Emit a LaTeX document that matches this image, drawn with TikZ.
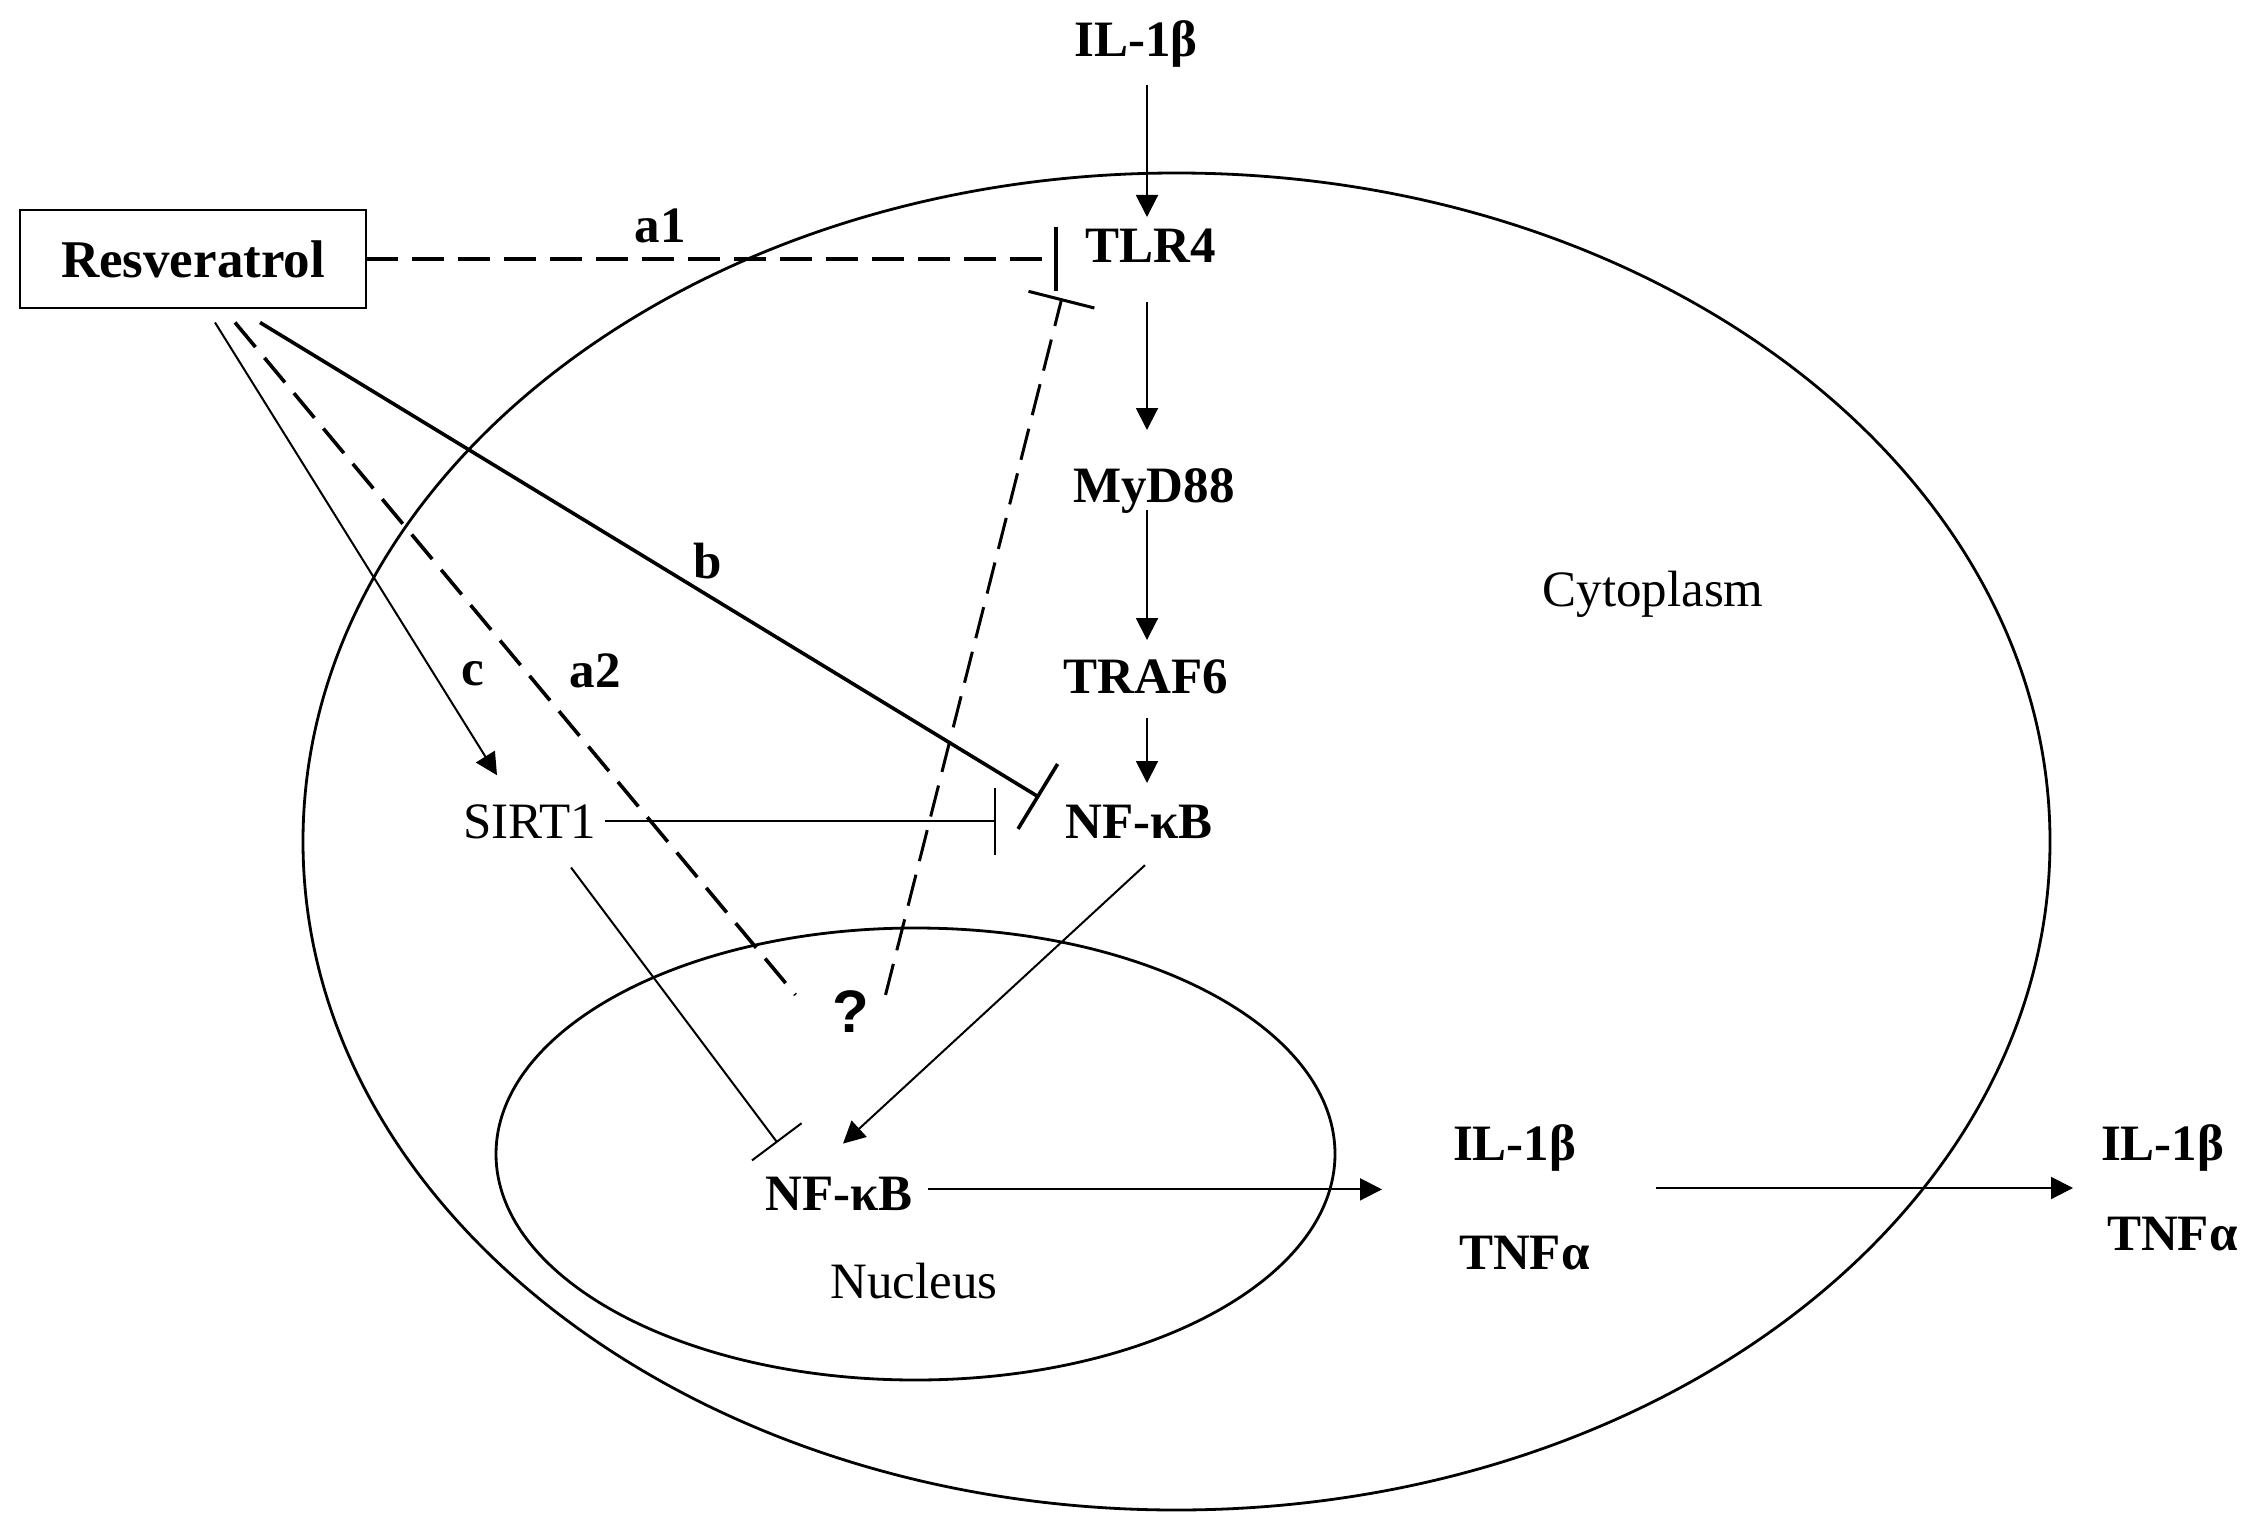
\documentclass[tikz,border=0pt]{standalone}
\usepackage{fontspec}
\setmainfont{Liberation Serif}
\newfontfamily\qfont{Liberation Sans}
\usetikzlibrary{arrows.meta}
\begin{document}
\begin{tikzpicture}[x=1pt,y=-1pt,
  lbl/.style={font=\fontsize{51}{60}\selectfont\bfseries, inner sep=0pt, outer sep=0pt, anchor=base},
  rlbl/.style={font=\fontsize{51}{60}\selectfont, inner sep=0pt, outer sep=0pt, anchor=base},
  arr/.style={line width=2pt, -{Triangle[length=22pt,width=22pt]}},
  tbar/.style={-{Bar[width=#1]}},
  tbar/.default=64pt,
  dsh/.style={dash pattern=on 32pt off 14pt, line width=3.6pt},
  thin/.style={line width=2pt},
  cell/.style={line width=2.8pt}
]
\useasboundingbox (0,0) rectangle (2267,1533);
\fill[white] (0,0) rectangle (2267,1533);

% cell and nucleus
\draw[cell] (1176.5,841.5) ellipse [x radius=873.5pt, y radius=668.5pt];
\draw[cell] (915.5,1154) ellipse [x radius=419.5pt, y radius=226pt];

% nodes
\node[lbl] (il1top) at (1136,57) {IL-1β};
\node[lbl] (tlr4) at (1151,262) {TLR4};
\node[lbl] (myd) at (1154,502) {MyD88};
\node[lbl] (traf) at (1146,693) {TRAF6};
\node[lbl] (nfkb) at (1139,838) {NF-κB};
\node[rlbl] (sirt) at (530,838) {SIRT1};
\node[lbl] (nfkbn) at (839,1210) {NF-κB};
\node[rlbl] (nuc) at (914,1298) {Nucleus};
\node[rlbl] (cyto) at (1653,606) {Cytoplasm};
\node[lbl, anchor=base west] (ilm) at (1453,1160) {IL-1β};
\node[lbl, anchor=base west] (tnfm) at (1459,1269) {TNFα};
\node[lbl, anchor=base west] (ilr) at (2101,1160) {IL-1β};
\node[lbl, anchor=base west] (tnfr) at (2107,1250) {TNFα};
\node[lbl, font=\fontsize{53}{60}\selectfont\bfseries, anchor=center, draw, line width=2pt, minimum width=346pt, minimum height=97pt] (res) at (193,259) {Resveratrol};
\node[font=\qfont\fontsize{60}{70}\selectfont\bfseries, inner sep=0pt, anchor=base] (q) at (851,1032) {?};

% edge labels
\node[lbl] (la1) at (660,242) {a1};
\node[lbl] (lb) at (708,578) {b};
\node[lbl] (lc) at (473,685) {c};
\node[lbl] (la2) at (595,687) {a2};

% main vertical pathway
\coordinate (axis) at (1147,0);
\draw[arr] ([yshift=-28pt]axis |- il1top.base) -- ([yshift=45pt]axis |- tlr4.base);
\draw[arr] ([yshift=-40pt]axis |- tlr4.base) -- ([yshift=72pt]axis |- myd.base);
\draw[arr] ([yshift=-8pt]axis |- myd.base) -- ([yshift=53pt]axis |- traf.base);
\draw[arr] ([yshift=-25pt]axis |- traf.base) -- ([yshift=55pt]axis |- nfkb.base);

% a1
\draw[dsh, tbar=64pt] (res.east) -- ([xshift=-28pt]tlr4.west |- res.east);
% ? to TLR4
\draw[dsh, line width=3pt, tbar=68pt] ([xshift=16pt,yshift=-5pt]q.north east) -- ([xshift=-24pt,yshift=-53pt]tlr4.west);
% b
\draw[line width=3.6pt, tbar=76pt] ([xshift=67pt,yshift=-15pt]res.south) -- ([xshift=-26pt,yshift=24pt]nfkb.west);
% a2
\draw[dsh] ([xshift=42pt,yshift=-15pt]res.south) -- ([xshift=-37pt,yshift=-5pt]q.north west);
% c
\draw[arr] ([xshift=22pt,yshift=-15pt]res.south) -- ([xshift=-33pt,yshift=29pt]sirt.north);
% SIRT1 inhibits NF-kB
\draw[thin, tbar=67pt] ([xshift=9pt]sirt.east) -- ([xshift=-69pt]nfkb.west |- sirt.east);
\draw[thin, tbar=62pt] ([xshift=41pt,yshift=-29pt]sirt.south) -- ([xshift=12pt,yshift=34pt]nfkbn.north west);
% translocation
\draw[arr] ([xshift=6pt,yshift=-27pt]nfkb.south) -- ([xshift=4pt,yshift=33pt]nfkbn.north);
% outputs
\draw[arr] ([xshift=15pt,yshift=4pt]nfkbn.east) -- ([xshift=-71pt,yshift=4pt]ilm.west |- nfkbn.east);
\draw[arr] ([xshift=80pt,yshift=-28pt]ilm.base east) -- ([xshift=-28pt,yshift=-28pt]ilr.base west);
\end{tikzpicture}
\end{document}
